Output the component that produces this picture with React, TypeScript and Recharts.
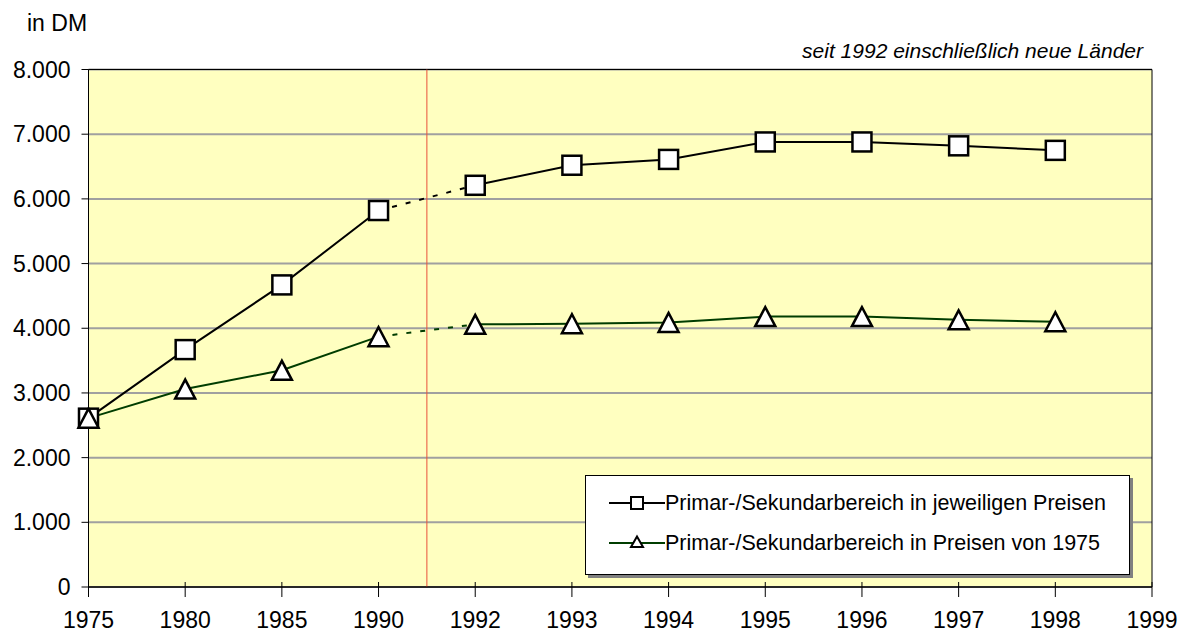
import React from "react";
import {
  CartesianGrid,
  Line,
  LineChart,
  ReferenceArea,
  ReferenceLine,
  XAxis,
  YAxis,
} from "recharts";

// x-axis labels (1999 has no data, the axis just ends there)
const years = ["1975", "1980", "1985", "1990", "1992", "1993", "1994", "1995", "1996", "1997", "1998", "1999"];
// Primar-/Sekundarbereich in jeweiligen Preisen
const currentPrices = [2610, 3670, 4670, 5820, 6210, 6520, 6610, 6880, 6880, 6820, 6750, null];
// Primar-/Sekundarbereich in Preisen von 1975
const prices1975 = [2610, 3060, 3350, 3870, 4060, 4070, 4090, 4180, 4180, 4130, 4100, null];
const yTicks = [0, 1000, 2000, 3000, 4000, 5000, 6000, 7000, 8000];

// last index before the break (1990) – 1992 onwards includes the new Länder
const BREAK = 3;

const FONT = "'Liberation Sans', Arial, Helvetica, sans-serif";
const GREEN = "#003d00";
const PLOT_BG = "#ffffc0";

const data = years.map((year, i) => {
  const a = currentPrices[i];
  const b = prices1975[i];
  return {
    i,
    year,
    curOld: i <= BREAK ? a : null,
    curNew: i > BREAK ? a : null,
    curGap: i === BREAK || i === BREAK + 1 ? a : null,
    realOld: i <= BREAK ? b : null,
    realNew: i > BREAK ? b : null,
    realGap: i === BREAK || i === BREAK + 1 ? b : null,
  };
});

const fmt = (n: number) => String(n).replace(/\B(?=(\d{3})+(?!\d))/g, ".");

function SquareDot(props: any) {
  const { cx, cy, value } = props;
  if (cx == null || cy == null || value == null) return <g key={props.key} />;
  return (
    <rect
      key={props.key}
      x={cx - 9.5}
      y={cy - 9.5}
      width={19}
      height={19}
      fill="#fff"
      stroke="#000"
      strokeWidth={2.5}
    />
  );
}

function TriangleDot(props: any) {
  const { cx, cy, value } = props;
  if (cx == null || cy == null || value == null) return <g key={props.key} />;
  return (
    <polygon
      key={props.key}
      points={`${cx},${cy - 9.5} ${cx - 10},${cy + 9.5} ${cx + 10},${cy + 9.5}`}
      fill="#fff"
      stroke="#000"
      strokeWidth={2.5}
      strokeLinejoin="miter"
    />
  );
}

function YearTick({ x, y, payload }: any) {
  return (
    <g>
      <line x1={x} x2={x} y1={y - 5} y2={y + 10} stroke="#000" strokeWidth={1} />
      <text x={x} y={y + 41} textAnchor="middle" fontSize={23} fontFamily={FONT} fill="#000">
        {years[payload.value]}
      </text>
    </g>
  );
}

function LegendRow({ marker, color, label }: { marker: "square" | "triangle"; color: string; label: string }) {
  return (
    <div style={{ display: "flex", alignItems: "center", height: 40 }}>
      <svg width={56} height={20} style={{ marginLeft: 23, marginRight: 0 }}>
        <line x1={0} x2={56} y1={10} y2={10} stroke={color} strokeWidth={2} />
        {marker === "square" ? (
          <rect x={22} y={4} width={12} height={12} fill="#fff" stroke="#000" strokeWidth={2} />
        ) : (
          <polygon points="28,3.5 22,14 34,14" fill="#fff" stroke="#000" strokeWidth={2} />
        )}
      </svg>
      <span style={{ fontSize: 21.5, fontFamily: FONT, color: "#000", whiteSpace: "nowrap" }}>{label}</span>
    </div>
  );
}

export default function App() {
  return (
    <div
      style={{
        position: "absolute",
        left: 0,
        top: 0,
        width: 1188,
        height: 637,
        background: "#fff",
        overflow: "hidden",
      }}
    >
      <div
        style={{
          position: "absolute",
          left: 27,
          top: 12,
          fontSize: 23,
          lineHeight: "23px",
          fontFamily: FONT,
          color: "#000",
        }}
      >
        in DM
      </div>
      <div
        style={{
          position: "absolute",
          left: 640,
          top: 40,
          width: 503,
          textAlign: "right",
          fontSize: 21,
          lineHeight: "21px",
          fontStyle: "italic",
          fontFamily: FONT,
          color: "#000",
        }}
      >
        seit 1992 einschließlich neue Länder
      </div>

      <LineChart
        width={1188}
        height={637}
        data={data}
        margin={{ top: 69.5, right: 36, bottom: 0, left: 0 }}
      >
        <CartesianGrid
          vertical={false}
          stroke="#a0a0a0"
          strokeWidth={2}
          fill={PLOT_BG}
          fillOpacity={1}
        />
        <XAxis
          type="number"
          dataKey="i"
          domain={[0, years.length - 1]}
          ticks={years.map((_, i) => i)}
          interval={0}
          height={50}
          tickLine={false}
          tickSize={0}
          tickMargin={0}
          axisLine={{ stroke: "#000", strokeWidth: 1 }}
          tick={<YearTick />}
        />
        <YAxis
          domain={[0, 8000]}
          ticks={yTicks}
          interval={0}
          width={88.5}
          tickSize={7}
          tickMargin={11}
          tickFormatter={fmt}
          axisLine={{ stroke: "#000", strokeWidth: 1 }}
          tickLine={{ stroke: "#000", strokeWidth: 1 }}
          tick={{ fontSize: 23, fontFamily: FONT, fill: "#000" }}
        />
        <ReferenceArea
          x1={0}
          x2={years.length - 1}
          y1={0}
          y2={8000}
          fill="none"
          stroke="#000"
          strokeWidth={1}
          ifOverflow="visible"
        />
        <ReferenceLine x={BREAK + 0.5} stroke="#e8503a" strokeWidth={1} ifOverflow="visible" />

        <Line dataKey="curGap" stroke="#000" strokeWidth={2} strokeDasharray="5 9" dot={false} activeDot={false} isAnimationActive={false} />
        <Line dataKey="realGap" stroke={GREEN} strokeWidth={2} strokeDasharray="5 9" dot={false} activeDot={false} isAnimationActive={false} />
        <Line dataKey="curOld" stroke="#000" strokeWidth={2} dot={SquareDot} activeDot={false} isAnimationActive={false} />
        <Line dataKey="curNew" stroke="#000" strokeWidth={2} dot={SquareDot} activeDot={false} isAnimationActive={false} />
        <Line dataKey="realOld" stroke={GREEN} strokeWidth={2} dot={TriangleDot} activeDot={false} isAnimationActive={false} />
        <Line dataKey="realNew" stroke={GREEN} strokeWidth={2} dot={TriangleDot} activeDot={false} isAnimationActive={false} />
      </LineChart>

      <div
        style={{
          position: "absolute",
          left: 585,
          top: 475,
          width: 545,
          height: 100,
          background: "#fff",
          border: "1px solid #000",
          boxShadow: "3px 3px 0 #808080",
          boxSizing: "border-box",
          paddingTop: 7,
        }}
      >
        <LegendRow marker="square" color="#000" label="Primar-/Sekundarbereich in jeweiligen Preisen" />
        <LegendRow marker="triangle" color={GREEN} label="Primar-/Sekundarbereich in Preisen von 1975" />
      </div>
    </div>
  );
}
